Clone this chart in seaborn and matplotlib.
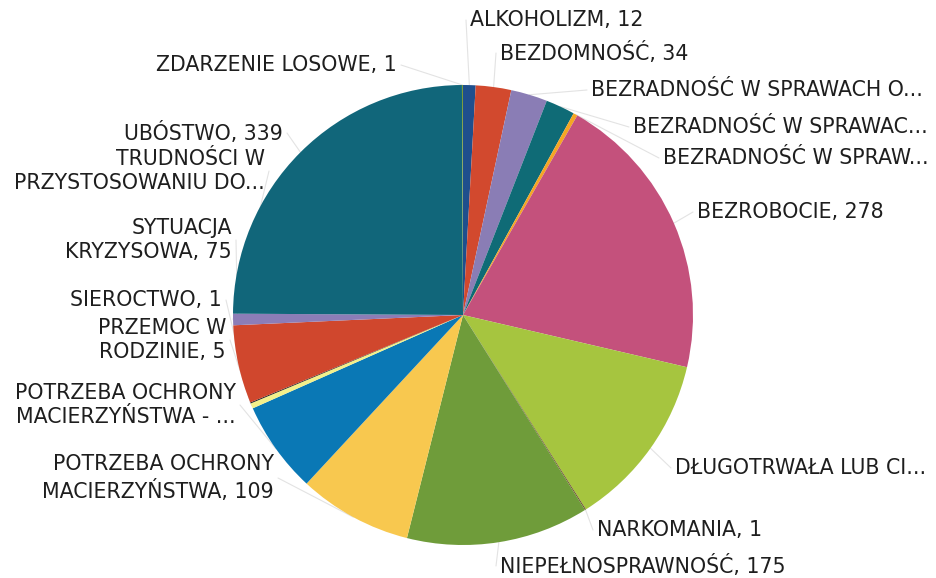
import numpy as np
import pandas as pd
import matplotlib
matplotlib.use("Agg")
import matplotlib.pyplot as plt
import seaborn as sns

# data, clockwise from 12 o'clock
labels = [
    "ALKOHOLIZM, 12",
    "BEZDOMNOŚĆ, 34",
    "BEZRADNOŚĆ W SPRAWACH O...",
    "BEZRADNOŚĆ W SPRAWAC...",
    "BEZRADNOŚĆ W SPRAW...",
    "BEZROBOCIE, 278",
    "DŁUGOTRWAŁA LUB CI...",
    "NARKOMANIA, 1",
    "NIEPEŁNOSPRAWNOŚĆ, 175",
    "POTRZEBA OCHRONY\nMACIERZYŃSTWA, 109",
    "POTRZEBA OCHRONY\nMACIERZYŃSTWA - ...",
    "PRZEMOC W\nRODZINIE, 5",
    "SIEROCTWO, 1",
    "SYTUACJA\nKRYZYSOWA, 75",
    "TRUDNOŚCI W\nPRZYSTOSOWANIU DO...",
    "UBÓSTWO, 339",
    "ZDARZENIE LOSOWE, 1",
]
values = [12, 34, 35, 28, 4, 278, 169, 1, 175, 109, 88, 5, 1, 75, 11, 339, 1]
colors = ["#1f4f8d", "#d2492e", "#8a7db5", "#0f6b76", "#f5a623", "#c4517c",
          "#a6c53f", "#6b4a2a", "#6f9c3a", "#f8c84f", "#0a78b5", "#f3f08a",
          "#222222", "#d0472d", "#8c7db7", "#11667a", "#7a9a3a"]

# label anchors in pixels (x, y from top) and which side they hang on
label_pos = [(470, 20), (500, 53), (591, 90), (633, 127), (663, 158),
             (697, 212), (675, 468), (597, 530), (500, 566),
             (274, 478), (236, 405), (226, 340), (222, 300), (232, 240),
             (265, 171), (283, 133), (397, 65)]
label_ha = ["left"] * 9 + ["right"] * 8

df = pd.DataFrame({"label": labels, "value": values, "color": colors})

W, H = 937, 578
cx, cy, r = 463, 315, 230

sns.set_style("white")
plt.rcParams["font.family"] = ["DejaVu Sans"]

fig = plt.figure(figsize=(W / 100, H / 100), dpi=100)
ax = fig.add_axes([0, 0, 1, 1])
wedges, _ = ax.pie(df["value"], colors=df["color"], startangle=90,
                   counterclock=False, center=(cx, H - cy), radius=r,
                   wedgeprops=dict(linewidth=0))
ax.set_xlim(0, W)
ax.set_ylim(0, H)
ax.axis("off")

for w, lab, (lx, ly), ha in zip(wedges, df["label"], label_pos, label_ha):
    mid = np.deg2rad((w.theta1 + w.theta2) / 2)
    px = cx + r * np.cos(mid)
    py = (H - cy) + r * np.sin(mid)
    ex = lx - 4 if ha == "left" else lx + 4
    ax.plot([px, ex], [py, H - ly], color="#e3e3e3", lw=0.8, zorder=0)
    ax.text(lx, H - ly, lab, ha=ha, va="center", multialignment=ha,
            fontsize=14.8, color="#1e1e1e", linespacing=1.28)

fig.savefig("out.png", dpi=100)
